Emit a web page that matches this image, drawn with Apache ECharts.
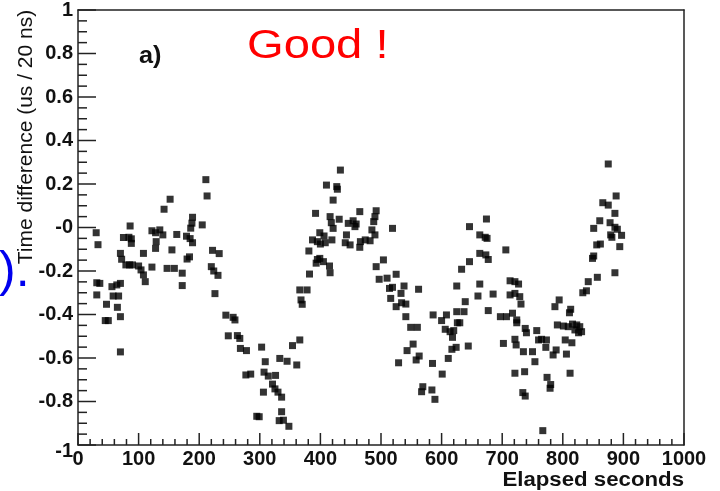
<!DOCTYPE html>
<html><head><meta charset="utf-8">
<script src="https://cdn.jsdelivr.net/npm/echarts@6/dist/echarts.min.js"></script>
<style>html,body{margin:0;padding:0;background:#fff}#c{width:720px;height:491px}</style>
</head><body><div id="c"></div><script>
// [elapsed seconds, time difference] grouped by 100-second ranges
const pts000 = [[30,-0.024],[33,-0.079],[31,-0.254],[36,-0.257],[31,-0.31],[47,-0.353],[45,-0.428],[50,-0.428],[56,-0.272],[64,-0.264],[70,-0.257],[58,-0.315],[67,-0.315],[65,-0.367],[70,-0.41],[70,-0.572],[70,-0.119],[72,-0.146],[75,-0.046],[79,-0.172],[85,-0.172],[90,-0.172],[86,0.007],[84,-0.045],[88,-0.052],[88,-0.073]];
const pts100 = [[100,-0.177],[104,-0.195],[108,-0.218],[111,-0.249],[108,-0.119],[122,-0.182],[122,-0.015],[128,-0.024],[135,-0.011],[129,-0.065],[128,-0.096],[140,-0.034],[142,0.084],[152,0.13],[155,-0.103],[147,-0.188],[159,-0.188],[163,-0.032],[172,-0.21],[172,-0.267],[179,-0.04],[185,-0.051],[189,-0.07],[180,-0.145],[184,-0.135],[186,-0.003],[188,0.02],[189,0.047]];
const pts200 = [[205,0.012],[211,0.22],[213,0.145],[220,-0.18],[224,-0.2],[231,-0.22],[222,-0.105],[233,-0.12],[226,-0.304],[244,-0.403],[256,-0.413],[259,-0.425],[248,-0.498],[263,-0.497],[267,-0.51],[268,-0.556],[278,-0.566],[277,-0.678],[285,-0.674],[295,-0.868],[299,-0.87]];
const pts300 = [[303,-0.55],[309,-0.617],[307,-0.665],[314,-0.683],[306,-0.757],[321,-0.72],[326,-0.68],[325,-0.742],[330,-0.757],[336,-0.78],[336,-0.847],[332,-0.888],[339,-0.886],[348,-0.914],[333,-0.602],[345,-0.615],[354,-0.543],[366,-0.517],[361,-0.632],[366,-0.287],[378,-0.287],[368,-0.333],[370,-0.353],[382,-0.214],[381,-0.108],[387,-0.057],[395,-0.065],[393,-0.164],[395,-0.147],[392,0.065]];
const pts400 = [[400,-0.076],[408,-0.07],[419,-0.057],[399,-0.024],[406,-0.039],[399,-0.142],[405,-0.157],[415,-0.177],[416,-0.208],[410,0.195],[427,0.188],[428,0.176],[421,0.126],[433,0.264],[416,0.05],[418,0.022],[421,-0.004],[431,0.038],[441,-0.07],[443,-0.034],[449,-0.08],[446,0.019],[454,0.031],[459,0.016],[457,0.004],[465,0.073],[466,-0.065],[465,-0.091],[474,-0.057],[482,-0.061],[492,0.077],[490,0.05],[488,0.027],[485,-0.011],[490,-0.034],[492,-0.18],[497,-0.238]];
const pts500 = [[504,-0.149],[510,-0.233],[514,-0.28],[516,-0.326],[519,-0.004],[525,-0.215],[519,-0.275],[525,-0.364],[533,-0.303],[538,-0.269],[534,-0.346],[541,-0.352],[562,-0.284],[541,-0.41],[549,-0.459],[560,-0.459],[553,-0.536],[543,-0.566],[563,-0.591],[558,-0.609],[529,-0.622],[569,-0.732],[567,-0.755],[584,-0.747],[589,-0.79],[585,-0.625],[586,-0.402]];
const pts600 = [[600,-0.428],[601,-0.674],[611,-0.602],[617,-0.56],[624,-0.551],[644,-0.545],[606,-0.468],[614,-0.479],[620,-0.474],[608,-0.402],[626,-0.438],[630,-0.438],[618,-0.505],[625,-0.387],[637,-0.387],[639,-0.341],[625,-0.269],[633,-0.192],[646,-0.157],[646,0.004],[663,-0.034],[672,-0.045],[675,-0.05],[674,0.039],[663,-0.119],[673,-0.126],[677,-0.147],[663,-0.26],[660,-0.315],[685,-0.306],[677,-0.382],[697,-0.41]];
const pts700 = [[706,-0.103],[713,-0.245],[721,-0.249],[727,-0.26],[713,-0.31],[721,-0.303],[729,-0.318],[731,-0.352],[707,-0.41],[717,-0.394],[724,-0.425],[724,-0.438],[738,-0.464],[740,-0.484],[702,-0.533],[721,-0.514],[723,-0.54],[735,-0.571],[750,-0.571],[757,-0.474],[760,-0.517],[754,-0.617],[721,-0.67],[737,-0.663],[734,-0.759],[738,-0.775],[765,-0.514],[773,-0.517],[772,-0.551],[784,-0.586],[789,-0.563],[774,-0.689],[780,-0.722],[779,-0.739],[767,-0.934],[791,-0.448],[787,-0.364],[794,-0.333]];
const pts800 = [[801,-0.453],[809,-0.456],[816,-0.444],[823,-0.448],[828,-0.456],[831,-0.479],[820,-0.471],[826,-0.484],[804,-0.517],[815,-0.53],[806,-0.582],[812,-0.67],[813,-0.376],[811,-0.392],[833,-0.3],[839,-0.291],[842,-0.249],[857,-0.229],[849,-0.142],[851,-0.131],[856,-0.08],[862,-0.076],[851,-0.004],[861,0.031],[878,0.022],[866,0.114],[875,0.103],[875,0.292],[888,0.145],[886,0.065],[886,0.001],[890,-0.008],[879,-0.034],[881,-0.045],[897,-0.036],[894,-0.088],[886,-0.208]];

// Axis tick positions
const xMajorTicks = [0, 100, 200, 300, 400, 500, 600, 700, 800, 900, 1000];
const yMajorTicks = [-1, -0.8, -0.6, -0.4, -0.2, 0, 0.2, 0.4, 0.6, 0.8, 1];
const xMinorPerMajor = 5;
const yMinorPerMajor = 4;

const xTitle = 'Elapsed seconds';
const yTitle = 'Time difference (us / 20 ns)';
const FONT = 'Liberation Sans, Arial, sans-serif';
const AX = '#222';

const allPts = [].concat(pts000, pts100, pts200, pts300, pts400, pts500, pts600, pts700, pts800);

// subdivide the major tick intervals into minor ticks
function minorTicks(major, n) {
  const out = [];
  for (let i = 0; i < major.length - 1; i++) {
    const a = major[i], b = major[i + 1];
    for (let k = 1; k < n; k++) out.push(+(a + (b - a) * k / n).toFixed(4));
  }
  return out;
}
const xTickData = xMajorTicks.map(v => [v, 12]).concat(minorTicks(xMajorTicks, xMinorPerMajor).map(v => [v, 6]));
const yTickData = yMajorTicks.map(v => [18, v]).concat(minorTicks(yMajorTicks, yMinorPerMajor).map(v => [9, v]));

const L = 78, R = 36, T = 10, B = 46;
const line = (show) => ({show: show, onZero: false, lineStyle: {color: AX, width: 1.5}});

const chart = echarts.init(document.getElementById('c'));
chart.setOption({
  animation: false,
  backgroundColor: '#fff',
  grid: [
    {left: L, right: R, top: T, bottom: B},   // main
    {left: L, right: R, top: T, bottom: B}    // top/right frame
  ],
  xAxis: [{
    gridIndex: 0, type: 'value', position: 'bottom', min: 0, max: 1000, interval: 100,
    axisLine: line(true), axisTick: {show: false}, splitLine: {show: false},
    axisLabel: {fontWeight: 'bold', fontSize: 20, color: '#111', margin: 4,
      formatter: function (v) { return String(v); }}
  }, {
    gridIndex: 1, type: 'value', position: 'top', min: 0, max: 1000,
    axisLine: line(true), axisTick: {show: false}, splitLine: {show: false}, axisLabel: {show: false}
  }],
  yAxis: [{
    gridIndex: 0, type: 'value', position: 'left', min: -1, max: 1, interval: 0.2,
    axisLine: line(true), axisTick: {show: false}, splitLine: {show: false},
    axisLabel: {
      fontWeight: 'bold', fontSize: 20, color: '#111', margin: 5,
      formatter: function (v) {
        if (Math.abs(v) < 1e-9) return '-0';
        if (Math.abs(v + 1) < 1e-9) return '{lo|-1}';
        return String(parseFloat(v.toFixed(1)));
      },
      rich: {lo: {fontWeight: 'bold', fontSize: 20, color: '#111', padding: [12, 0, 0, 0]}}
    }
  }, {
    gridIndex: 1, type: 'value', position: 'right', min: -1, max: 1,
    axisLine: line(true), axisTick: {show: false}, splitLine: {show: false}, axisLabel: {show: false}
  }],
  series: [{
    type: 'scatter', symbol: 'rect', symbolSize: 7, xAxisIndex: 0, yAxisIndex: 0,
    itemStyle: {color: '#000'}, z: 5,
    data: allPts
  }, {
    // inward ticks on the x axis, placed through the x scale
    type: 'custom', xAxisIndex: 0, yAxisIndex: 0, z: 10, silent: true, clip: false,
    encode: {x: 0},
    data: xTickData,
    renderItem: function (params, api) {
      const p = api.coord([api.value(0), -1]);
      const len = api.value(1);
      return {type: 'line', shape: {x1: p[0], y1: p[1], x2: p[0], y2: p[1] - len},
        style: {stroke: AX, lineWidth: 1.5}};
    }
  }, {
    // inward ticks on the y axis, placed through the y scale
    type: 'custom', xAxisIndex: 0, yAxisIndex: 0, z: 10, silent: true, clip: false,
    encode: {y: 1},
    data: yTickData,
    renderItem: function (params, api) {
      const p = api.coord([0, api.value(1)]);
      const len = api.value(0);
      return {type: 'line', shape: {x1: p[0], y1: p[1], x2: p[0] + len, y2: p[1]},
        style: {stroke: AX, lineWidth: 1.5}};
    }
  }],
  graphic: [
    {type: 'text', x: 26, y: 137, rotation: Math.PI / 2,
     style: {text: yTitle, fontFamily: FONT, fontSize: 21, fill: '#111', align: 'center', verticalAlign: 'middle'}},
    {type: 'text', x: 684, y: 481, scaleX: 1.14,
     style: {text: xTitle, fontFamily: FONT, fontWeight: 'bold', fontSize: 19.5, fill: '#111', align: 'right', verticalAlign: 'middle'}},
    {type: 'text', x: 247, y: 47, scaleX: 1.15,
     style: {text: 'Good !', fontFamily: FONT, fontSize: 41, fill: '#ff0000', align: 'left', verticalAlign: 'middle'}},
    {type: 'text', x: 139, y: 57, scaleX: 1.1,
     style: {text: 'a)', fontFamily: FONT, fontWeight: 'bold', fontSize: 23, fill: '#111', align: 'left', verticalAlign: 'middle'}},
    {type: 'text', x: -1, y: 272,
     style: {text: ').', fontFamily: FONT, fontSize: 50, fill: '#0000ee', align: 'left', verticalAlign: 'middle'}}
  ]
});
</script></body></html>
